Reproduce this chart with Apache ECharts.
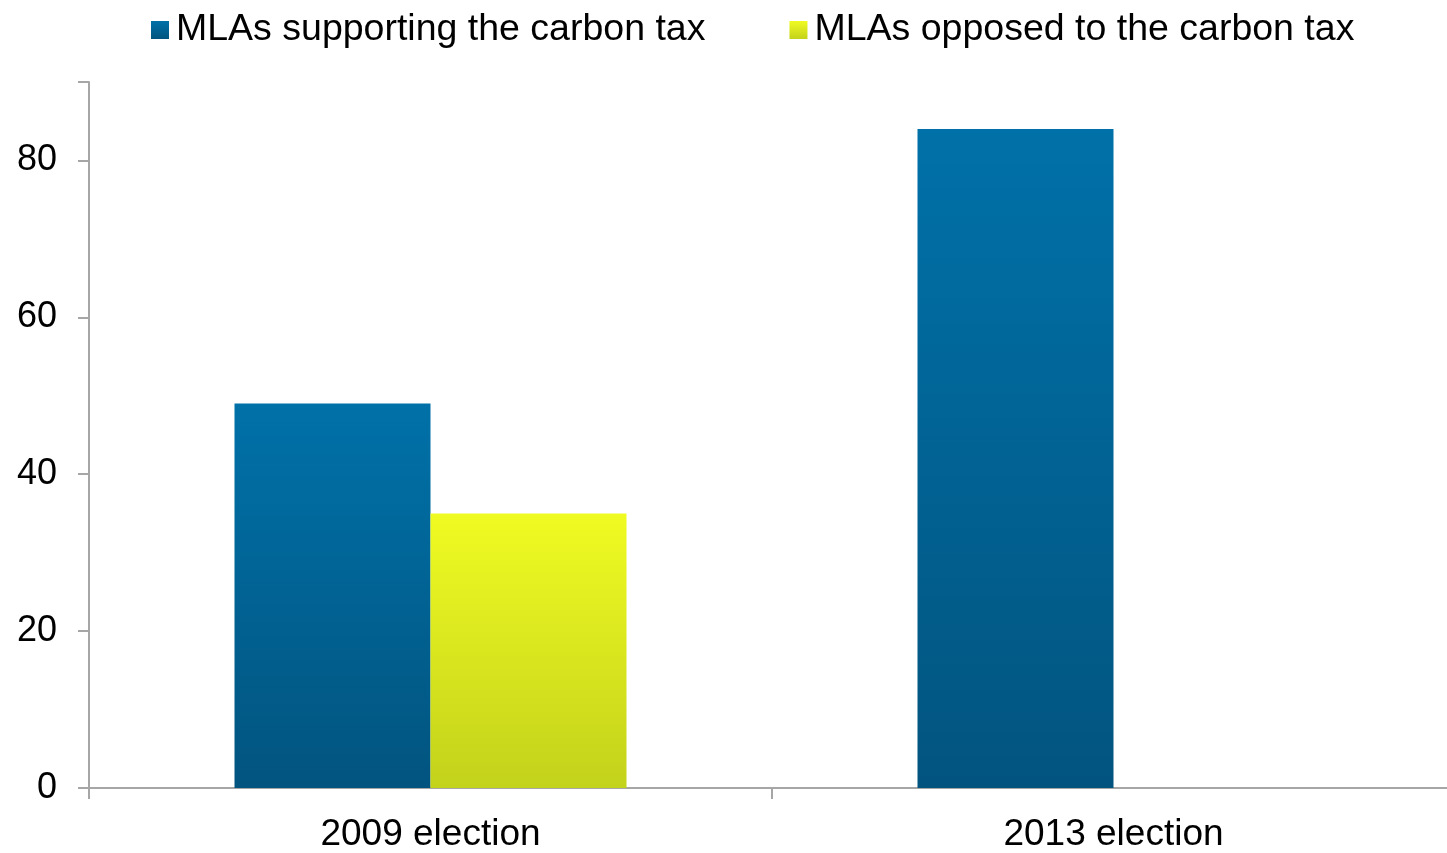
<!DOCTYPE html>
<html>
<head>
<meta charset="utf-8">
<script src="https://cdn.jsdelivr.net/npm/echarts@6/dist/echarts.min.js"></script>
<style>html,body{margin:0;padding:0;background:#fff}#c{width:1447px;height:853px}</style>
</head>
<body>
<div id="c"></div>
<script>
var categories = ['2009 election', '2013 election'];
var supporting = [49, 84];
var opposed = [35, null];
var seriesNames = ['MLAs supporting the carbon tax', 'MLAs opposed to the carbon tax'];

var chart = echarts.init(document.getElementById('c'));
var font = '"Liberation Sans", Arial, sans-serif';
function grad(top, bottom) {
  return new echarts.graphic.LinearGradient(0, 0, 0, 1, [
    { offset: 0, color: top }, { offset: 1, color: bottom }
  ]);
}
chart.setOption({
  animation: false,
  legend: {
    top: 6, left: 146,
    itemWidth: 18, itemHeight: 18, itemGap: 84,
    icon: 'rect',
    textStyle: { fontFamily: font, fontSize: 37.5, color: '#000', padding: [0, 0, 0, 2] },
    data: seriesNames
  },
  grid: { left: 89, width: 1366, top: 82, height: 706, containLabel: false, outerBoundsMode: 'none' },
  xAxis: {
    type: 'category', data: categories,
    axisLine: { lineStyle: { color: '#a6a6a6', width: 2 } },
    axisTick: { show: true, length: 11, lineStyle: { color: '#a6a6a6', width: 2 } },
    axisLabel: { fontFamily: font, fontSize: 37, color: '#000', margin: 28 }
  },
  yAxis: {
    type: 'value', min: 0, max: 90, interval: 20,
    splitLine: { show: false },
    axisLine: { show: true, lineStyle: { color: '#a6a6a6', width: 2 } },
    axisTick: { show: true, length: 11, lineStyle: { color: '#a6a6a6', width: 2 } },
    axisLabel: { fontFamily: font, fontSize: 36, color: '#000', margin: 32,
      formatter: function (v) { return v % 20 === 0 ? v : ''; } }
  },
  series: [
    { name: seriesNames[0], type: 'bar', data: supporting, barWidth: 196, barGap: '0%',
      itemStyle: { color: grad('#0071a8', '#02547f') } },
    { name: seriesNames[1], type: 'bar', data: opposed, barWidth: 196,
      itemStyle: { color: grad('#f0fb22', '#c3d21b') } }
  ]
});
</script>
</body>
</html>
